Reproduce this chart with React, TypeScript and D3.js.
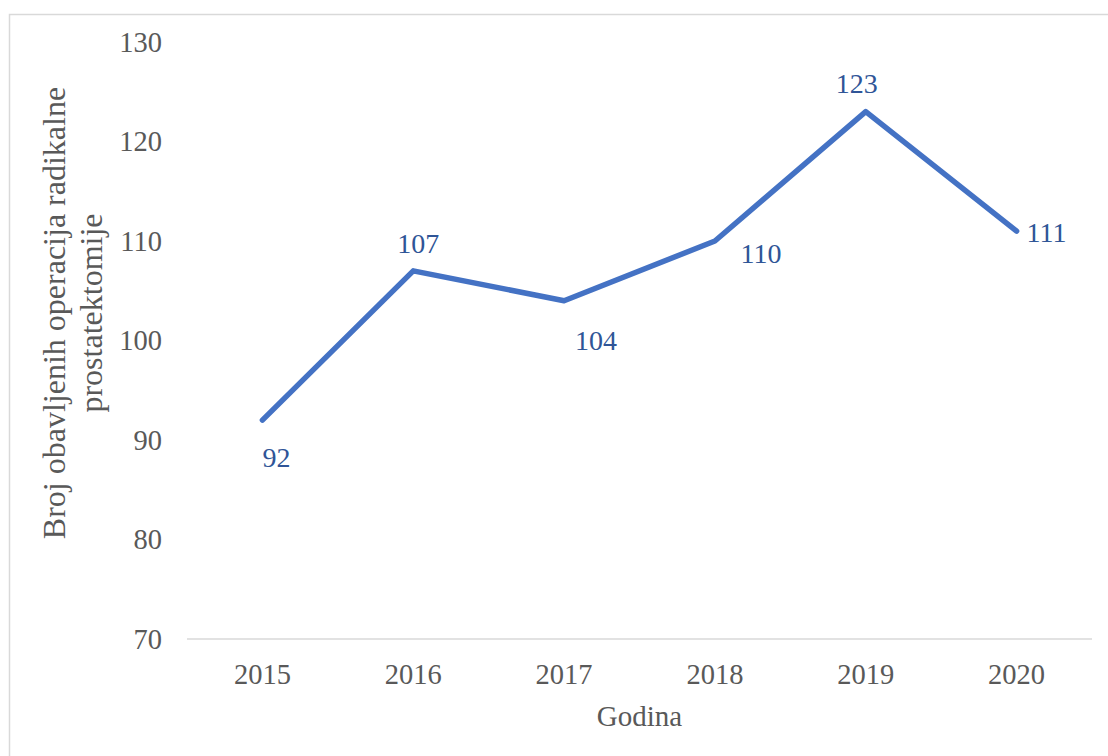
import React, { useEffect, useRef } from 'react';
import * as d3 from 'd3';

const years = ['2015', '2016', '2017', '2018', '2019', '2020'];
const operations = [92, 107, 104, 110, 123, 111];
const yTicks = [70, 80, 90, 100, 110, 120, 130];

// label placement relative to each point (Excel-like manual positions)
const labelOffsets = [
  [14, 37],
  [5, -28],
  [32, 39],
  [46, 12],
  [-9, -28],
  [30, 1],
];

const FONT = "'Liberation Serif', serif";

const App = () => {
  const ref = useRef<SVGSVGElement>(null);

  useEffect(() => {
    const svg = d3.select(ref.current);
    svg.selectAll('*').remove();

    const width = 1108;
    const height = 756;
    const left = 187;
    const right = 1092;
    const top = 42;
    const bottom = 639;

    // chart border
    svg
      .append('rect')
      .attr('x', 9.5)
      .attr('y', 14.5)
      .attr('width', width + 20)
      .attr('height', height + 20)
      .attr('fill', 'white')
      .attr('stroke', '#d9d9d9')
      .attr('stroke-width', 1.5);

    const x = d3.scaleBand().domain(years).range([left, right]);
    const y = d3.scaleLinear().domain([70, 130]).range([bottom, top]);

    // x axis line
    svg
      .append('line')
      .attr('x1', left)
      .attr('x2', right)
      .attr('y1', y(70))
      .attr('y2', y(70))
      .attr('stroke', '#d9d9d9')
      .attr('stroke-width', 1.5);

    svg
      .append('g')
      .selectAll('text')
      .data(yTicks)
      .join('text')
      .attr('x', 162)
      .attr('y', (d) => y(d))
      .attr('dy', '0.35em')
      .attr('text-anchor', 'end')
      .attr('font-size', 28.5)
      .attr('fill', '#595959')
      .text((d) => d);

    svg
      .append('g')
      .selectAll('text')
      .data(years)
      .join('text')
      .attr('x', (d) => x(d)! + x.bandwidth() / 2)
      .attr('y', 674)
      .attr('dy', '0.35em')
      .attr('text-anchor', 'middle')
      .attr('font-size', 28.5)
      .attr('fill', '#595959')
      .text((d) => d);

    svg
      .append('text')
      .attr('x', (left + right) / 2)
      .attr('y', 716)
      .attr('dy', '0.35em')
      .attr('text-anchor', 'middle')
      .attr('font-size', 29)
      .attr('fill', '#595959')
      .text('Godina');

    const yTitle = svg
      .append('text')
      .attr('transform', 'translate(0, 313) rotate(-90)')
      .attr('text-anchor', 'middle')
      .attr('font-size', 32)
      .attr('fill', '#595959');
    yTitle.append('tspan').attr('x', 0).attr('y', 54).attr('dy', '0.35em').text('Broj obavljenih operacija radikalne');
    yTitle.append('tspan').attr('x', 0).attr('y', 91).attr('dy', '0.35em').text('prostatektomije');

    const line = d3
      .line<number>()
      .x((d, i) => x(years[i])! + x.bandwidth() / 2)
      .y((d) => y(d));

    svg
      .append('path')
      .datum(operations)
      .attr('d', line)
      .attr('fill', 'none')
      .attr('stroke', '#4472C4')
      .attr('stroke-width', 5.5)
      .attr('stroke-linejoin', 'round')
      .attr('stroke-linecap', 'round');

    svg
      .append('g')
      .selectAll('text')
      .data(operations)
      .join('text')
      .attr('x', (d, i) => x(years[i])! + x.bandwidth() / 2 + labelOffsets[i][0])
      .attr('y', (d, i) => y(d) + labelOffsets[i][1])
      .attr('dy', '0.35em')
      .attr('text-anchor', 'middle')
      .attr('font-size', 28)
      .attr('fill', '#2F5597')
      .text((d) => d);
  }, []);

  return (
    <svg
      ref={ref}
      width={1108}
      height={756}
      style={{ position: 'absolute', left: 0, top: 0, display: 'block', fontFamily: FONT }}
    />
  );
};

export default App;
